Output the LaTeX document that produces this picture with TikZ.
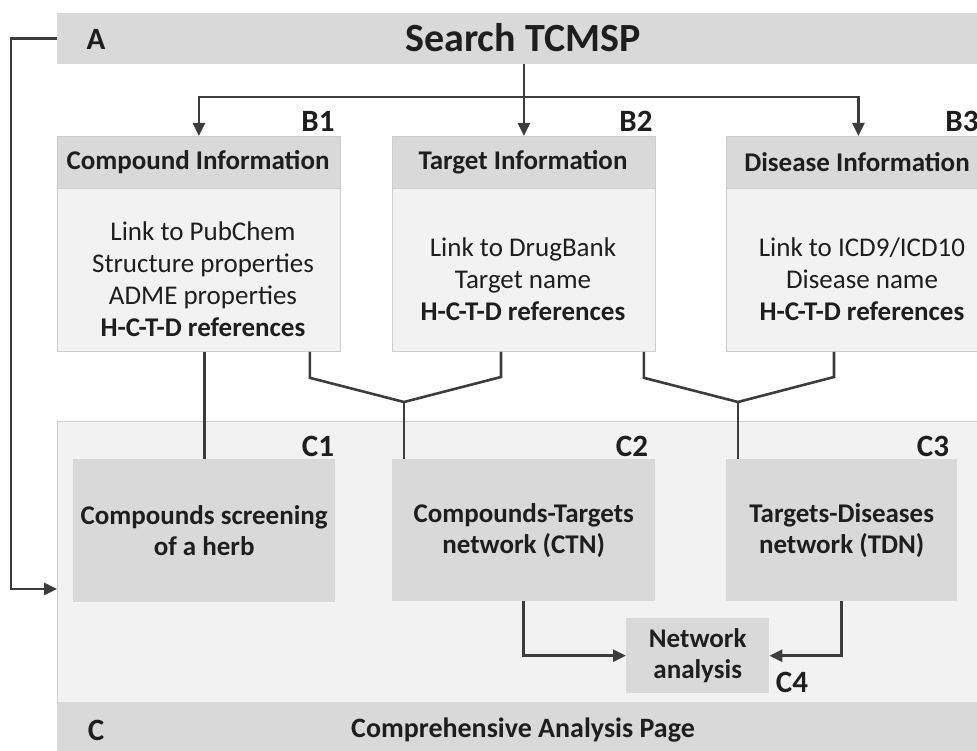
\documentclass[tikz,border=0pt]{standalone}
\usepackage{fontspec}
\setmainfont{Carlito}
\usetikzlibrary{arrows.meta,positioning}

\definecolor{barfill}{HTML}{D9D9D9}
\definecolor{panelfill}{HTML}{F2F2F2}
\definecolor{edgegray}{HTML}{CDCDCD}
\definecolor{linegray}{HTML}{3C3C3C}
\definecolor{inkgray}{HTML}{1E1E1E}

\newcommand{\txttitle}{\fontsize{40}{44}\selectfont\bfseries}
\newcommand{\txthead}{\fontsize{27}{31}\selectfont\bfseries}
\newcommand{\txtbody}{\fontsize{27}{32}\selectfont}
\newcommand{\txttag}{\fontsize{31}{34}\selectfont\bfseries}

\tikzset{
  band/.style={fill=barfill, draw=none, inner sep=0pt, anchor=north west},
  head/.style={fill=barfill, draw=edgegray, line width=0.8pt, inner sep=0pt, anchor=north west},
  body/.style={fill=panelfill, draw=edgegray, line width=0.8pt, inner sep=0pt, anchor=north west},
  tool/.style={fill=barfill, draw=none, inner sep=0pt, anchor=north west},
  tag/.style={font=\txttag, text=inkgray, inner sep=0pt},
  words/.style={text=inkgray, align=center, inner sep=0pt},
  conn/.style={draw=linegray, line width=2.6pt},
  arr/.style={conn, -{Triangle[length=13pt,width=12pt]}}
}

\begin{document}
\begin{tikzpicture}[x=1pt, y=-1pt]
  \useasboundingbox (0,0) rectangle (977,751);
  % search bar
  \node[band, minimum width=940, minimum height=51] (abar) at (57,13) {};
  \node[tag] (atag) at (96,39) {A};
  \node[words, font=\txttitle] (srch) at (523,38) {Search TCMSP};

  % information boxes
  \node[head, minimum width=283, minimum height=52] (b1h) at (57,136) {};
  \node[body, minimum width=283, minimum height=163] (b1) at (57,188) {};
  \node[head, minimum width=263, minimum height=52] (b2h) at (392,136) {};
  \node[body, minimum width=263, minimum height=163] (b2) at (392,188) {};
  \node[head, minimum width=264, minimum height=52] (b3h) at (726,136) {};
  \node[body, minimum width=264, minimum height=163] (b3) at (726,188) {};
  \node[words, font=\txthead] at (198,162) {Compound Information};
  \node[words, font=\txthead] at (523,162) {Target Information};
  \node[words, font=\txthead] at (857,162) {Disease Information};
  \node[words, font=\txtbody] at (203,279) {Link to PubChem\\Structure properties\\ADME properties\\\textbf{H-C-T-D references}};
  \node[words, font=\txtbody] at (523,279) {Link to DrugBank\\Target name\\\textbf{H-C-T-D references}};
  \node[words, font=\txtbody] at (862,279) {Link to ICD9/ICD10\\Disease name\\\textbf{H-C-T-D references}};
  \node[tag] (b1tag) at (318,121) {B1};
  \node[tag] (b2tag) at (636,121) {B2};
  \node[tag] (b3tag) at (962,121) {B3};

  % analysis page
  \node[body, minimum width=940, minimum height=282] (cpan) at (57,421) {};
  \node[band, minimum width=940, minimum height=50] (cbar) at (57,702) {};
  \node[tag] (ctag) at (96,730) {C};
  \node[words, font=\fontsize{28}{31}\selectfont\bfseries] (cpage) at (523,730) {Comprehensive Analysis Page};
  \node[tool, minimum width=262, minimum height=143] (c1) at (73,459) {};
  \node[tool, minimum width=263, minimum height=142] (c2) at (392,459) {};
  \node[tool, minimum width=231, minimum height=142] (c3) at (726,459) {};
  \node[tool, minimum width=143, minimum height=75] (c4) at (626,618) {};
  \node[words, font=\txthead] at (c1.center) {Compounds screening\\of a herb};
  \node[words, font=\txthead] at (c2.center) {Compounds-Targets\\network (CTN)};
  \node[words, font=\txthead] at (c3.center) {Targets-Diseases\\network (TDN)};
  \node[words, font=\txthead] at (c4.center) {Network\\analysis};
  \node[tag] (c1tag) at (318,446) {C1};
  \node[tag] (c2tag) at (632,446) {C2};
  \node[tag] (c3tag) at (933,446) {C3};
  \node[tag] (c4tag) at (792,682) {C4};

  % connectors
  \coordinate (hub) at (523,97);
  \coordinate (ctn) at (404,402);
  \coordinate (tdn) at (738,402);
  \coordinate (cin) at (57,589);
  \draw[arr] (b2h.north |- abar.south) -- (b2h.north);
  \draw[arr] (hub) -| (b1h.north);
  \draw[arr] (hub) -| (b3h.north);
  \draw[arr] (abar.west) -- ++(-46,0) |- (cin);
  \draw[conn] (c1.north |- b1.south) -- (c1.north);
  \draw[conn] ([xshift=-31pt]b1.south east) -- ++(0,26) -- (ctn) -- ++(97,-25) -- ([xshift=109pt]b2.south west);
  \draw[conn] (ctn) -- (ctn |- c2.north);
  \draw[conn] ([xshift=-12pt]b2.south east) -- ++(0,26) -- (tdn) -- ++(96,-25) -- ([xshift=108pt]b3.south west);
  \draw[conn] (tdn) -- (tdn |- c3.north);
  \draw[arr] (c2.south) |- (c4.west);
  \draw[arr] (c3.south) |- (c4.east);
\end{tikzpicture}
\end{document}
